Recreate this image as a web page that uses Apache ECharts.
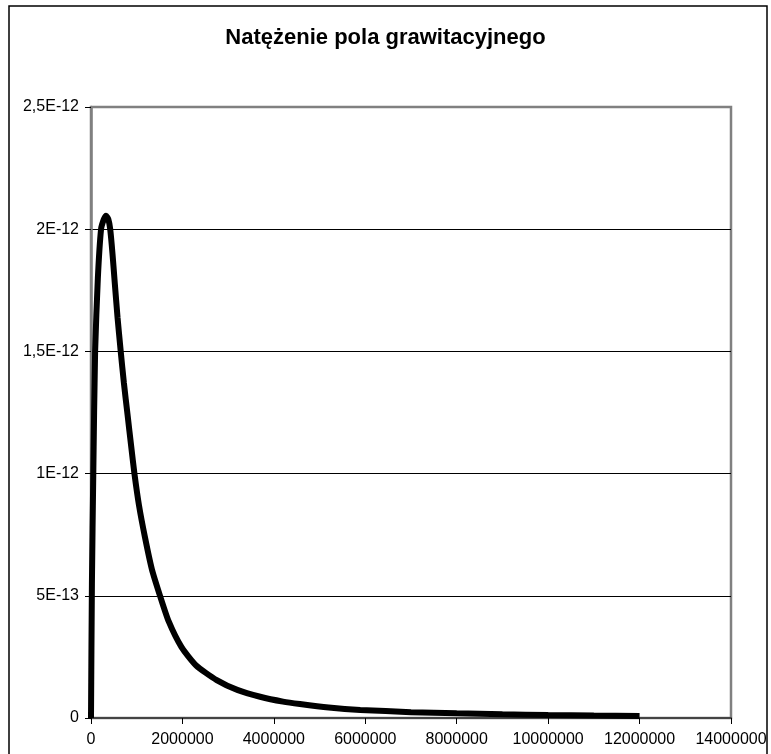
<!DOCTYPE html>
<html>
<head>
<meta charset="utf-8">
<script src="https://cdn.jsdelivr.net/npm/echarts@6/dist/echarts.min.js"></script>
<style>
  html, body { margin: 0; padding: 0; background: #fff; }
  #chart { width: 771px; height: 754px; }
</style>
</head>
<body>
<div id="chart"></div>
<script>
// odległość [m] i natężenie [E-12]
const distances = [0, 20000, 50000, 90000, 150000, 220000, 280000, 330000, 380000, 420000,
  470000, 520000, 580000, 650000, 720000, 800000, 880000, 950000, 1050000, 1180000,
  1330000, 1510000, 1700000, 1980000, 2300000, 2750000, 3200000, 3700000, 4200000, 4570000,
  5200000, 5890000, 7000000, 8000000, 9000000, 10000000, 11000000, 12000000]
const fieldE12 = [0, 0.55, 1.0, 1.5, 1.8, 2.0, 2.04, 2.055, 2.04, 2.0,
  1.9, 1.78, 1.64, 1.5, 1.37, 1.24, 1.11, 1.0, 0.87, 0.74,
  0.61, 0.5, 0.395, 0.29, 0.215, 0.155, 0.115, 0.087, 0.067, 0.057,
  0.043, 0.033, 0.024, 0.019, 0.015, 0.012, 0.0098, 0.008]

const yTickValues = [0, 5e-13, 1e-12, 1.5e-12, 2e-12, 2.5e-12]
const yTickLabels = ['0', '5E-13', '1E-12', '1,5E-12', '2E-12', '2,5E-12']
const xTickLabels = ['0', '2000000', '4000000', '6000000', '8000000', '10000000', '12000000', '14000000']

const points = distances.map((d, i) => [d, fieldE12[i] * 1e-12])

const chart = echarts.init(document.getElementById('chart'))
const font = 'Liberation Sans, Arial, sans-serif'

chart.setOption({
  animation: false,
  title: {
    text: 'Natężenie pola grawitacyjnego',
    left: 'center',
    top: 22,
    textStyle: { fontFamily: font, fontSize: 22, fontWeight: 'bold', color: '#000' }
  },
  graphic: [{
    type: 'rect',
    shape: { x: 9, y: 6, width: 758, height: 760 },
    style: { fill: 'none', stroke: '#000', lineWidth: 1.5 },
    silent: true
  }],
  grid: {
    left: 91, right: 40, top: 107, bottom: 36,
    show: true, borderColor: '#808080', borderWidth: 2.5
  },
  xAxis: {
    type: 'value',
    min: 0, max: 14000000, interval: 2000000,
    axisLine: { lineStyle: { color: '#444', width: 2 } },
    axisTick: { inside: false, length: 6, lineStyle: { color: '#000' } },
    splitLine: { show: false },
    axisLabel: {
      margin: 14,
      fontFamily: font, fontSize: 16, color: '#000',
      formatter: (v) => xTickLabels[Math.round(v / 2000000)]
    }
  },
  yAxis: {
    type: 'value',
    min: 0, max: 2.5e-12, interval: 5e-13,
    axisLine: { show: true, lineStyle: { color: '#808080', width: 2.5 } },
    axisTick: { show: true, length: 6, lineStyle: { color: '#000' } },
    splitLine: { lineStyle: { color: ['#000', '#000', '#000', '#000', '#000', '#808080'], width: 1 } },
    axisLabel: {
      margin: 12,
      fontFamily: font, fontSize: 16, color: '#000',
      formatter: (v) => {
        const i = yTickValues.findIndex(t => Math.abs(t - v) < 1e-15)
        return i >= 0 ? yTickLabels[i] : ''
      }
    }
  },
  series: [{
    type: 'line',
    data: points,
    smooth: 0.2,
    showSymbol: false,
    lineStyle: { color: '#000', width: 6 },
    z: 5
  }]
})
</script>
</body>
</html>
